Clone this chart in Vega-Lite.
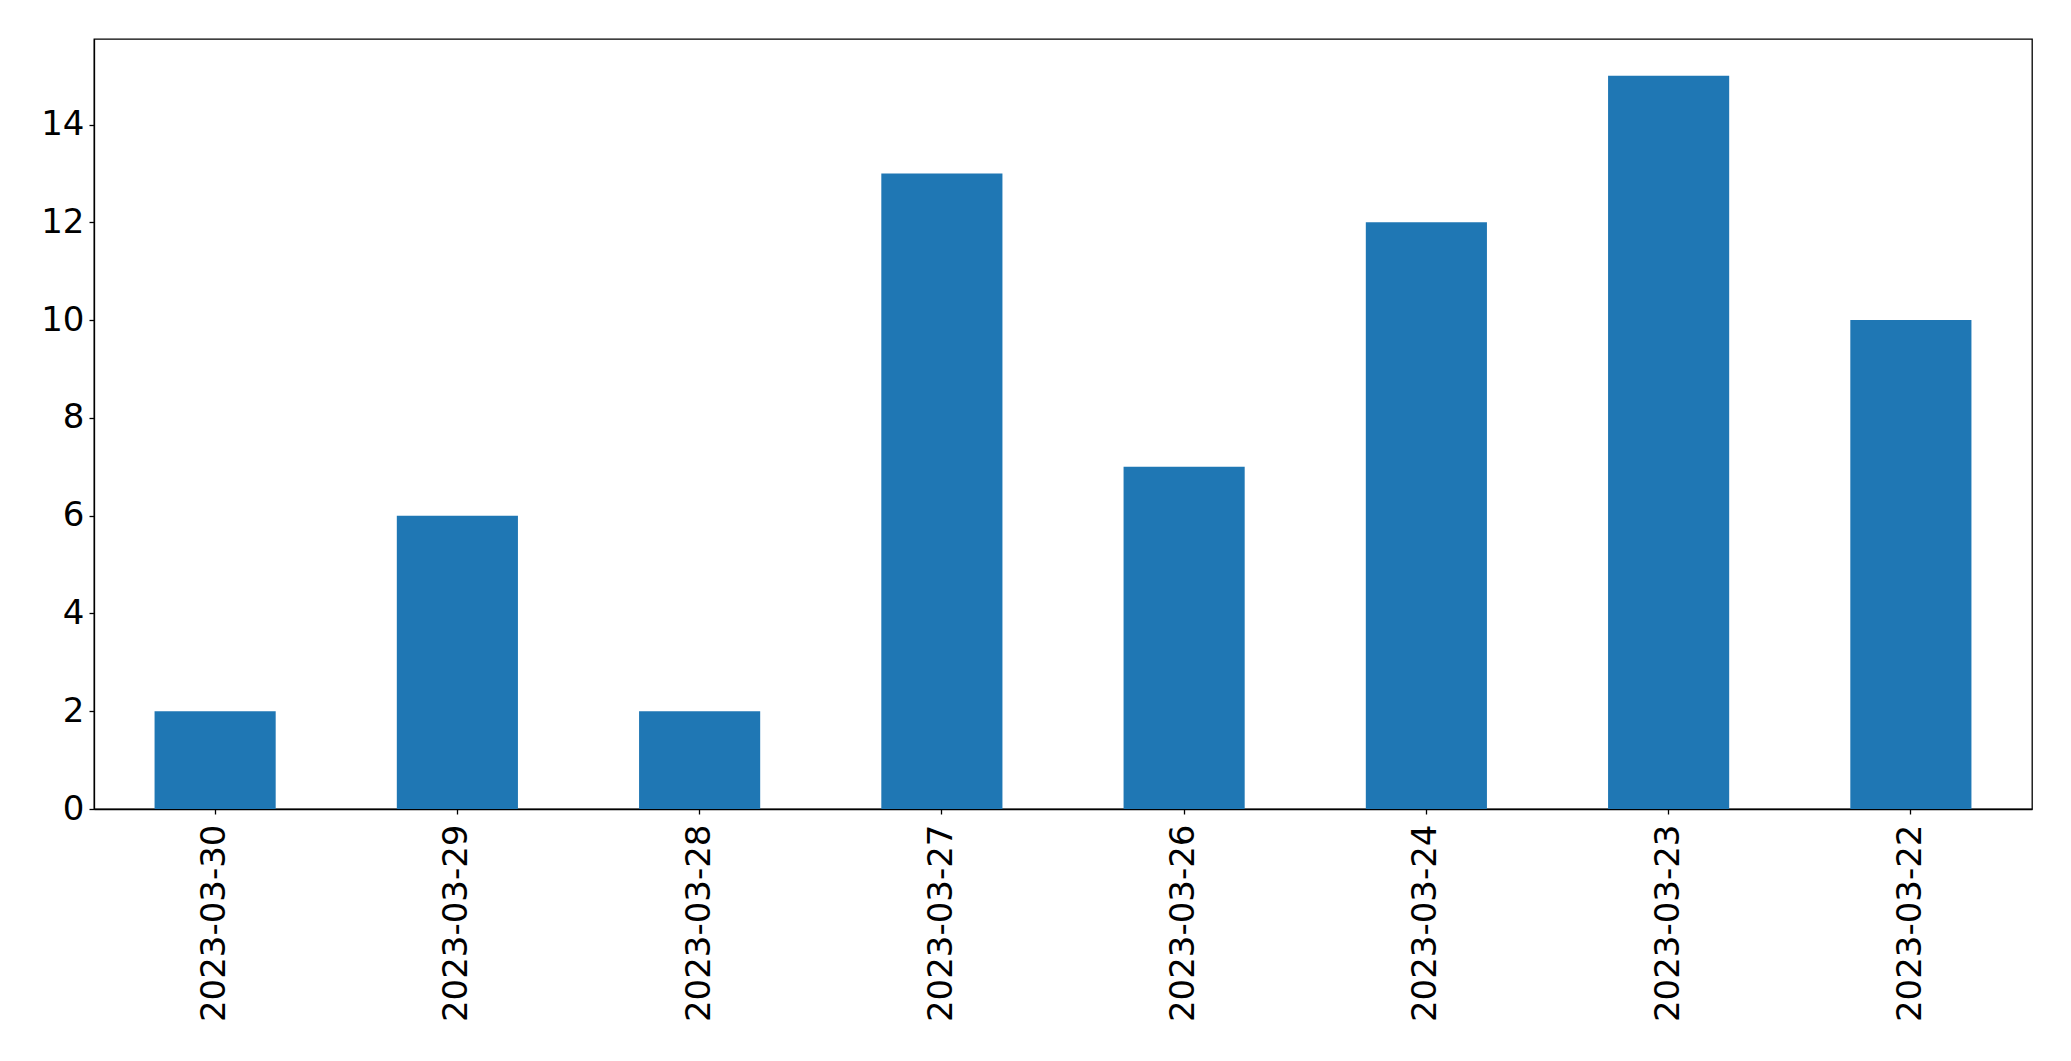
{
  "$schema": "https://vega.github.io/schema/vega-lite/v6.json",
  "autosize": {"type": "none"},
  "padding": {"left": 94, "top": 39, "right": 39, "bottom": 252},
  "width": 1938,
  "height": 770,
  "background": "white",
  "config": {
    "view": {"stroke": "black", "strokeWidth": 1.3},
    "axis": {
      "grid": false,
      "domainColor": "black",
      "domainWidth": 1.3,
      "tickColor": "black",
      "tickWidth": 1.3,
      "tickSize": 5,
      "labelFont": "DejaVu Sans",
      "labelFontSize": 34,
      "labelColor": "black",
      "labelPadding": 5,
      "title": null
    }
  },
  "data": {
    "values": [
      {"date": "2023-03-30", "count": 2},
      {"date": "2023-03-29", "count": 6},
      {"date": "2023-03-28", "count": 2},
      {"date": "2023-03-27", "count": 13},
      {"date": "2023-03-26", "count": 7},
      {"date": "2023-03-24", "count": 12},
      {"date": "2023-03-23", "count": 15},
      {"date": "2023-03-22", "count": 10}
    ]
  },
  "mark": {"type": "bar", "color": "#1f77b4"},
  "encoding": {
    "x": {
      "field": "date",
      "type": "nominal",
      "sort": null,
      "scale": {"paddingInner": 0.5, "paddingOuter": 0.25},
      "axis": {"labelAngle": -90, "labelPadding": 10, "labelLimit": 400}
    },
    "y": {
      "field": "count",
      "type": "quantitative",
      "scale": {"domain": [0, 15.75], "nice": false, "zero": true},
      "axis": {"values": [0, 2, 4, 6, 8, 10, 12, 14]}
    }
  }
}
